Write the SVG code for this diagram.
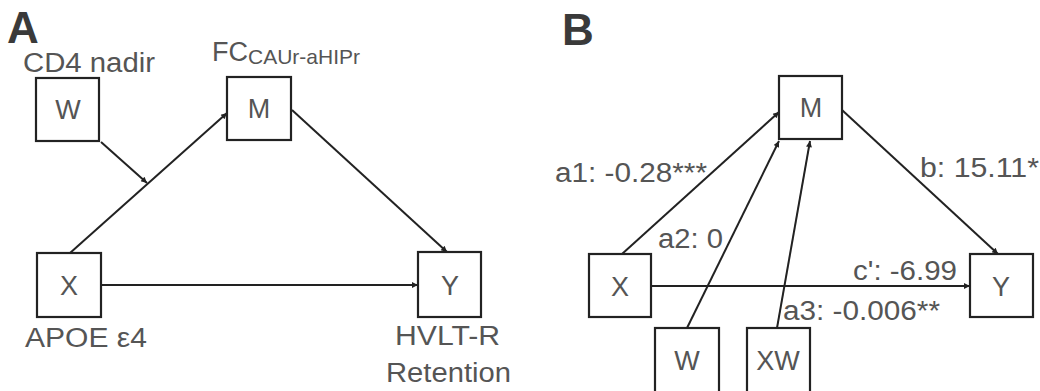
<svg xmlns="http://www.w3.org/2000/svg" width="1040" height="391" viewBox="0 0 1040 391">
<defs>
<style>
.box{fill:#fff;stroke:#222;stroke-width:2.2}
.ln{fill:none;stroke:#222;stroke-width:2;marker-end:url(#ah)}
.t{font-family:"Liberation Sans",Arial,sans-serif;fill:#555;font-size:27px}
.n{font-family:"Liberation Sans",Arial,sans-serif;fill:#555;font-size:27px;text-anchor:middle}
.p{font-family:"Liberation Sans",Arial,sans-serif;fill:#3a3a3a;font-size:44px;font-weight:bold}
</style>
<marker id="ah" viewBox="0 0 10 10" refX="10" refY="5" markerWidth="8" markerHeight="6" markerUnits="userSpaceOnUse" orient="auto">
<path d="M0,0 L10,5 L0,10 z" fill="#222"/>
</marker>
</defs>
<rect width="1040" height="391" fill="#fff"/>
<text class="p" x="7" y="43">A</text>
<text class="p" x="562" y="45">B</text>
<g id="connectors">
<line class="ln" x1="101" y1="142" x2="147" y2="183"/>
<line class="ln" x1="70" y1="253" x2="227" y2="113"/>
<line class="ln" x1="292" y1="110" x2="447" y2="252"/>
<line class="ln" x1="101" y1="285" x2="418" y2="285"/>
<line class="ln" x1="622" y1="254" x2="779" y2="112"/>
<line class="ln" x1="842" y1="110" x2="998" y2="254"/>
<line class="ln" x1="687" y1="328" x2="779" y2="141"/>
<line class="ln" x1="777" y1="328" x2="810" y2="141"/>
<line class="ln" x1="651" y1="286" x2="970" y2="286"/>
</g>
<g id="A-W"><rect class="box" x="36" y="78" width="63" height="63"/><text class="n" x="68" y="119">W</text><text class="t" x="23" y="72" textLength="132" lengthAdjust="spacingAndGlyphs">CD4 nadir</text></g>
<g id="A-M"><rect class="box" x="227" y="77" width="64" height="63"/><text class="n" x="259" y="118">M</text><text class="t" x="212" y="61" font-size="28">FC<tspan font-size="21" dy="3">CAUr-aHIPr</tspan></text></g>
<g id="A-X"><rect class="box" x="37" y="253" width="64" height="64"/><text class="n" x="69" y="295">X</text><text class="t" x="25" y="347" textLength="122" lengthAdjust="spacingAndGlyphs">APOE ε4</text></g>
<g id="A-Y"><rect class="box" x="418" y="252" width="63" height="65"/><text class="n" x="450" y="295">Y</text><text class="t" x="395" y="345" textLength="105" lengthAdjust="spacingAndGlyphs">HVLT-R</text><text class="t" x="386" y="382" textLength="125" lengthAdjust="spacingAndGlyphs">Retention</text></g>
<g id="B-M"><rect class="box" x="779" y="76" width="63" height="63"/><text class="n" x="811" y="117">M</text></g>
<g id="B-X"><rect class="box" x="589" y="254" width="62" height="63"/><text class="n" x="620" y="296">X</text></g>
<g id="B-Y"><rect class="box" x="970" y="254" width="63" height="63"/><text class="n" x="1001" y="296">Y</text></g>
<g id="B-W"><rect class="box" x="655" y="328" width="64" height="70"/><text class="n" x="687" y="370">W</text></g>
<g id="B-XW"><rect class="box" x="747" y="328" width="63" height="70"/><text class="n" x="778" y="370">XW</text></g>
<g id="labels">
<text class="t" x="555" y="182" textLength="152" lengthAdjust="spacingAndGlyphs">a1: -0.28***</text>
<text class="t" x="920" y="177" textLength="119" lengthAdjust="spacingAndGlyphs">b: 15.11*</text>
<text class="t" x="658" y="248" textLength="65" lengthAdjust="spacingAndGlyphs">a2: 0</text>
<text class="t" x="853" y="280" textLength="104" lengthAdjust="spacingAndGlyphs">c': -6.99</text>
<text class="t" x="783" y="320" textLength="157" lengthAdjust="spacingAndGlyphs">a3: -0.006**</text>
</g>
</svg>
